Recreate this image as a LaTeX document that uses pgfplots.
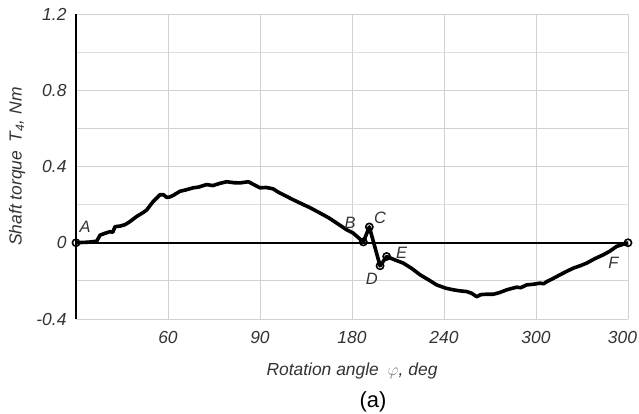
\documentclass[border=0pt]{standalone}
\usepackage{fontspec}
\setmainfont{Liberation Sans}
\usepackage{pgfplots}
\pgfplotsset{compat=1.18}
\usetikzlibrary{calc}

\definecolor{ticktext}{HTML}{333333}

\pgfplotstableread{
x y
0 0
8 0.003
13.5 0.008
15.7 0.040
19 0.050
22.2 0.058
24 0.055
25.4 0.084
29 0.088
32 0.095
35 0.110
39.6 0.138
43.7 0.158
46.1 0.172
50.2 0.215
54.8 0.252
57 0.252
59.2 0.238
61 0.240
63.3 0.248
67.8 0.270
72 0.278
76.3 0.288
80 0.292
83 0.300
85.2 0.305
89.3 0.300
94 0.312
98.3 0.320
103 0.315
107 0.314
112.4 0.320
116 0.305
120 0.288
124 0.290
128.5 0.283
132 0.265
135 0.253
141.5 0.226
147 0.205
152.6 0.184
159.1 0.156
165 0.130
171 0.098
176.5 0.068
180.7 0.051
187.4 0.004
191.3 0.083
198.3 -0.121
202.6 -0.072
208 -0.090
213.5 -0.107
219 -0.135
224.4 -0.168
230 -0.195
235.2 -0.221
241 -0.238
246.1 -0.247
250 -0.252
254.8 -0.256
258 -0.265
261.3 -0.283
264 -0.272
267.8 -0.270
272.2 -0.270
276 -0.262
280.9 -0.247
284 -0.240
287.4 -0.233
290 -0.236
293.9 -0.221
298 -0.218
302.6 -0.212
305 -0.215
307 -0.204
311 -0.188
315.7 -0.168
320 -0.150
324.4 -0.133
329 -0.120
333 -0.107
338 -0.085
343.9 -0.063
348 -0.045
352.6 -0.019
360 0
}\torque

% points A..F
\pgfplotstableread{
x y
0 0
187.4 0.004
191.3 0.083
198.3 -0.121
202.6 -0.072
360 0
}\marked

\begin{document}
\begin{tikzpicture}
\begin{axis}[
  name=ax,
  scale only axis,
  width=552bp, height=305bp,
  xmin=0, xmax=360, ymin=-0.4, ymax=1.2,
  axis line style={draw=none},
  major tick length=0, minor tick length=0,
  xtick={60,120,180,240,300,360},
  xticklabels={60,90,180,240,300,{\hspace*{-11bp}300}},
  ytick={-0.4,0,0.4,0.8,1.2},
  yticklabels={-0.4,0,0.4,0.8,1.2},
  minor ytick={-0.2,0.2,0.6,1.0},
  grid=both,
  major grid style={gray!35, line width=0.9bp},
  minor grid style={gray!25, line width=0.9bp},
  extra x ticks={60,120,300},
  extra x tick labels={},
  extra x tick style={grid style={black!70, line width=0.9bp}},
  extra y ticks={-0.2,0.4,0.6,0.8},
  extra y tick labels={},
  extra y tick style={grid style={black!60, line width=0.9bp}},
  ticklabel style={font=\fontsize{17.5}{20}\selectfont\itshape, text=ticktext},
  xticklabel style={anchor=north, yshift=-9bp},
  yticklabel style={anchor=east, xshift=-6bp},
  xlabel={Rotation angle\enspace{\color{gray}$\varphi$}, deg},
  label style={font=\fontsize{17.5}{20}\selectfont\itshape, text=ticktext},
  xlabel style={at={(axis description cs:0.5,0)}, anchor=center, yshift=-52bp},
  clip=false,
]
\draw[black, line width=2.2bp] (axis cs:0,0) -- (axis cs:360,0);
\draw[black, line width=2.8bp] (axis cs:0,-0.4) -- (axis cs:0,1.2);
\addplot[black, line width=3.6bp, line join=round, no marks] table[x=x, y=y] {\torque};
\addplot[only marks, mark=o, mark size=3.6bp, mark options={draw=black, fill=white, line width=1.6bp}] table[x=x, y=y] {\marked};
\begin{scope}[every node/.style={font=\fontsize{16.5}{18}\selectfont\itshape, text=ticktext}]
\node at (axis cs:5.9,0.086) {A};
\node at (axis cs:178.8,0.107) {B};
\node at (axis cs:198.3,0.130) {C};
\node at (axis cs:192.9,-0.191) {D};
\node at (axis cs:212.4,-0.054) {E};
\node at (axis cs:350.4,-0.107) {F};
\end{scope}
\end{axis}
\node[rotate=90, font=\fontsize{17.5}{20}\selectfont\itshape, text=ticktext] at ($(ax.west)+(-59bp,0)$) {Shaft torque\enspace T\textsubscript{4}, Nm};
\node[font=\fontsize{22}{24}\selectfont] at ($(ax.south west)+(297bp,-83bp)$) {(a)};
\pgfresetboundingbox
\path[use as bounding box] ($(ax.south west)+(-76bp,-95bp)$) rectangle ($(ax.north east)+(11bp,14bp)$);
\end{tikzpicture}
\end{document}
